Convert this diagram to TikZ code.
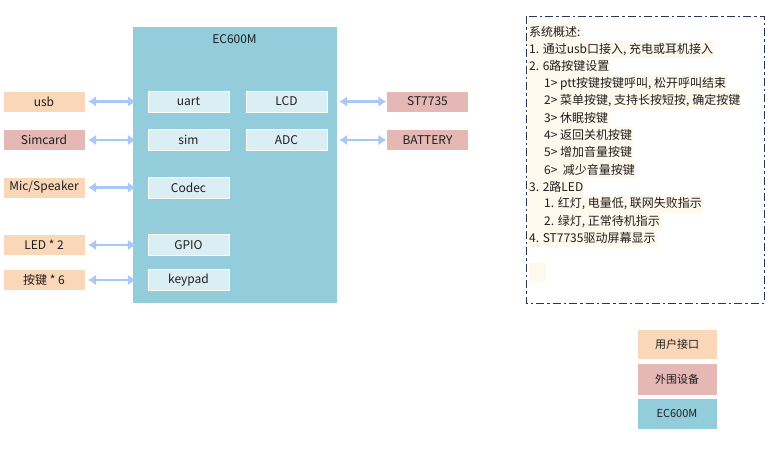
\documentclass[tikz,border=0pt]{standalone}
\usepackage{fontspec}
\setmainfont{Noto Sans CJK SC}
\usetikzlibrary{arrows.meta,positioning}

\definecolor{peach}{HTML}{FBD7BA}
\definecolor{rose}{HTML}{E5B8B6}
\definecolor{chipblue}{HTML}{93CDDC}
\definecolor{portblue}{HTML}{DBEEF3}
\definecolor{linkblue}{HTML}{A8C8F6}
\definecolor{cream}{HTML}{FFF8EC}
\definecolor{navy}{HTML}{2A3756}
\definecolor{ink}{HTML}{1E1E1E}

\begin{document}
\begin{tikzpicture}[x=1pt,y=-1pt,
		every node/.style={text=ink,font=\fontsize{12}{14}\selectfont},
		box/.style={rectangle,draw=white,line width=0.4pt,inner sep=0pt},
		user node/.style={box,fill=peach,minimum width=82,minimum height=21},
		periph node/.style={box,fill=rose,minimum width=82,minimum height=21},
		port node/.style={box,fill=portblue,minimum width=81,minimum height=21},
		chip node/.style={box,fill=chipblue},
		legend node/.style={box,minimum width=80,font=\fontsize{11}{13}\selectfont},
		note line/.style={anchor=west,fill=cream,inner xsep=1pt,inner ysep=0pt,
			minimum height=17.2},
		link/.style={draw=linkblue,line width=2.4pt,
			{Latex[length=8pt,width=11pt]}-{Latex[length=8pt,width=11pt]}}]
	
	\useasboundingbox (0,0) rectangle (773,451);
	
	% module
	\node[chip node,minimum width=205,minimum height=277] (ec) at (234.5,164.5) {};
	\node (ectitle) at (234.5,39) {EC600M};
	
	\node[port node] (uart) at (188.5,101.5) {uart};
	\node[port node] (lcd) at (286.5,101.5) {LCD};
	\node[port node] (sim) at (188.5,140) {sim};
	\node[port node] (adc) at (286.5,140) {ADC};
	\node[port node] (codec) at (188.5,187.5) {Codec};
	\node[port node] (gpio) at (188.5,245) {GPIO};
	\node[port node] (keypad) at (188.5,280) {keypad};
	
	% outside
	\node[user node] (usb) at (44,101.5) {usb};
	\node[periph node] (simcard) at (44,140) {Simcard};
	\node[user node] (mic) at (44,187.5) {Mic/Speaker};
	\node[user node] (led) at (44,245) {LED * 2};
	\node[user node] (keys) at (44,280) {按键 * 6};
	\node[periph node] (st) at (427.5,101.5) {ST7735};
	\node[periph node] (bat) at (427.5,140) {BATTERY};
	
	\draw[link,shorten <=3pt,shorten >=-4pt] (usb) -- (usb -| ec.west);
	\draw[link,shorten <=3pt,shorten >=-4pt] (simcard) -- (simcard -| ec.west);
	\draw[link,shorten <=3pt,shorten >=-4pt] (mic) -- (mic -| ec.west);
	\draw[link,shorten <=3pt,shorten >=-4pt] (led) -- (led -| ec.west);
	\draw[link,shorten <=3pt,shorten >=-4pt] (keys) -- (keys -| ec.west);
	\draw[link,shorten <=2pt] (st -| ec.east) -- (st);
	\draw[link,shorten <=2pt] (bat -| ec.east) -- (bat);
	
	% notes
	\draw[navy,line width=1pt,dash pattern=on 8pt off 3pt on 2.5pt off 3pt]
	(526,16) rectangle (764,303);
	\node[note line] (n1) at (528,32) {系统概述:};
	\node[note line] (n2) at (528,49.2) {1. 通过usb口接入, 充电或耳机接入};
	\node[note line] (n3) at (528,66.4) {2. 6路按键设置};
	\node[note line] (n4) at (528,83.6) {\hspace{15pt}1> ptt按键按键呼叫, 松开呼叫结束};
	\node[note line] (n5) at (528,100.8) {\hspace{15pt}2> 菜单按键, 支持长按短按, 确定按键};
	\node[note line] (n6) at (528,118) {\hspace{15pt}3> 休眠按键};
	\node[note line] (n7) at (528,135.2) {\hspace{15pt}4> 返回关机按键};
	\node[note line] (n8) at (528,152.4) {\hspace{15pt}5> 增加音量按键};
	\node[note line] (n9) at (528,169.6) {\hspace{15pt}6> \ 减少音量按键};
	\node[note line] (n10) at (528,186.8) {3. 2路LED};
	\node[note line] (n11) at (528,204) {\hspace{15pt}1. 红灯, 电量低, 联网失败指示};
	\node[note line] (n12) at (528,221.2) {\hspace{15pt}2. 绿灯, 正常待机指示};
	\node[note line] (n13) at (528,238.4) {4. ST7735驱动屏幕显示};
	\node[note line,minimum width=17] (n14) at (529,272) {};
	
	% legend
	\node[legend node,fill=peach,minimum height=30] (lguser) at (677,344) {用户接口};
	\node[legend node,fill=rose,minimum height=32] (lgperiph) at (677,379) {外围设备};
	\node[legend node,fill=chipblue,minimum height=31] (lgchip) at (677,413.5) {EC600M};
\end{tikzpicture}
\end{document}
